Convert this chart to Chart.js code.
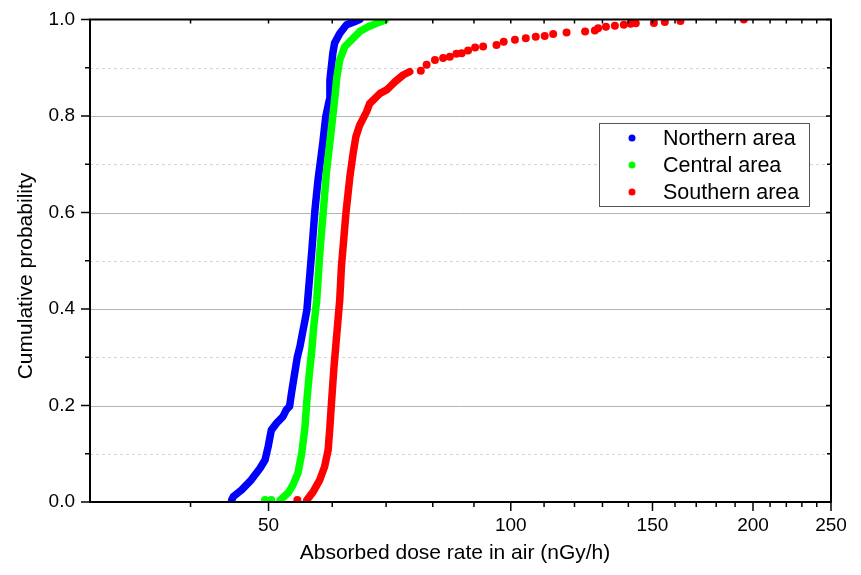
<!DOCTYPE html>
<html>
<head>
<meta charset="utf-8">
<title>Cumulative probability of absorbed dose rate</title>
<script src="https://cdn.jsdelivr.net/npm/chart.js@4.4.1/dist/chart.umd.min.js"></script>
<style>
  html, body { margin: 0; padding: 0; background: #fff; }
</style>
</head>
<body>
<canvas id="cdfChart" width="861" height="575"></canvas>
<script>
// Northern area (dense part, drawn as a band)
var northX = [45.0, 45.2, 46.3, 47.6, 48.8, 49.5, 49.95, 50.4, 51.2, 52.1, 52.6, 53.1, 53.4, 53.8, 54.3, 54.7, 55.1, 55.5, 55.8, 56.6, 57.1, 57.6, 58.4, 58.9, 59.5, 59.6, 60.1, 60.4, 61.3, 62.5, 64.3, 64.9];
var northP = [0.004, 0.011, 0.025, 0.046, 0.070, 0.087, 0.115, 0.149, 0.164, 0.177, 0.191, 0.198, 0.226, 0.260, 0.301, 0.322, 0.350, 0.377, 0.398, 0.522, 0.605, 0.667, 0.744, 0.799, 0.833, 0.875, 0.930, 0.951, 0.971, 0.989, 0.997, 1.0];

// Central area
var centralX = [51.7, 52.9, 53.6, 54.4, 55.0, 55.5, 55.8, 56.2, 56.6, 56.9, 57.4, 57.9, 58.5, 59.0, 59.7, 60.4, 60.8, 61.3, 62.2, 63.4, 64.9, 66.5, 68.1, 69.8];
var centralP = [0.004, 0.019, 0.035, 0.060, 0.102, 0.156, 0.211, 0.267, 0.315, 0.363, 0.419, 0.516, 0.605, 0.682, 0.757, 0.833, 0.881, 0.916, 0.944, 0.958, 0.975, 0.985, 0.992, 0.999];
var centralDotX = [49.5, 50.4];
var centralDotP = [0.004, 0.004];

// Southern area
var southX = [55.8, 56.8, 57.9, 58.7, 59.3, 59.6, 59.9, 60.3, 60.8, 61.3, 61.6, 62.4, 63.1, 63.7, 64.2, 64.9, 66.2, 66.8, 68.8, 70.1, 70.8, 71.8, 73.5, 74.9];
var southP = [0.004, 0.021, 0.046, 0.073, 0.108, 0.156, 0.211, 0.280, 0.350, 0.419, 0.488, 0.599, 0.674, 0.723, 0.757, 0.781, 0.809, 0.826, 0.847, 0.854, 0.861, 0.871, 0.885, 0.892];
var southDotX = [54.3, 77.3, 78.6, 80.5, 82.4, 84.0, 85.6, 86.9, 88.5, 90.3, 92.4, 96.0, 98.0, 101.2, 104.4, 107.4, 110.2, 112.9, 117.3, 123.7, 127.2, 128.4, 131.3, 134.7, 138.2, 140.9, 143.0, 150.6, 155.4, 162.5, 194.8];
var southDotP = [0.004, 0.894, 0.906, 0.916, 0.920, 0.923, 0.929, 0.930, 0.936, 0.942, 0.944, 0.947, 0.954, 0.958, 0.961, 0.964, 0.966, 0.970, 0.973, 0.975, 0.977, 0.982, 0.985, 0.987, 0.989, 0.991, 0.992, 0.993, 0.995, 0.997, 1.0];

var seriesNames = ["Northern area", "Central area", "Southern area"];
var seriesColors = ["#0000ff", "#00ff00", "#ff0000"];

// tick values
var xMajorTicks = [50, 100, 150, 200, 250];
var xMinorTicks = [40, 60, 70, 80, 90, 110, 120, 130, 140, 160, 170, 180, 190, 210, 220, 230, 240];
var yMajorTicks = [0, 0.2, 0.4, 0.6, 0.8, 1.0];
var yMinorTicks = [0.1, 0.3, 0.5, 0.7, 0.9];

var fontFamily = "Arial, 'Liberation Sans', sans-serif";

function toPoints(xs, ps) {
  return xs.map(function (x, i) { return { x: x, y: ps[i] }; });
}

function bandDataset(label, xs, ps, color, order) {
  return {
    label: label,
    data: toPoints(xs, ps),
    showLine: true,
    borderColor: color,
    backgroundColor: color,
    borderWidth: 7.5,
    borderCapStyle: "round",
    borderJoinStyle: "round",
    pointRadius: 0,
    tension: 0,
    order: order
  };
}

function dotDataset(xs, ps, color, order) {
  return {
    label: "",
    data: toPoints(xs, ps),
    showLine: false,
    backgroundColor: color,
    borderWidth: 0,
    pointRadius: 4,
    order: order
  };
}

// grid lines, frame, ticks, legend, axis titles
var decorations = {
  id: "decorations",
  beforeDatasetsDraw: function (chart) {
    var ctx = chart.ctx, a = chart.chartArea, y = chart.scales.y;
    ctx.save();
    ctx.lineWidth = 1;
    ctx.strokeStyle = "#d6d6d6";
    ctx.setLineDash([3, 3]);
    yMinorTicks.forEach(function (v) {
      var py = Math.round(y.getPixelForValue(v)) + 0.5;
      ctx.beginPath(); ctx.moveTo(a.left, py); ctx.lineTo(a.right, py); ctx.stroke();
    });
    ctx.setLineDash([]);
    ctx.strokeStyle = "#b4b4b4";
    yMajorTicks.slice(1, -1).forEach(function (v) {
      var py = Math.round(y.getPixelForValue(v)) + 0.5;
      ctx.beginPath(); ctx.moveTo(a.left, py); ctx.lineTo(a.right, py); ctx.stroke();
    });
    ctx.restore();
  },
  afterDatasetsDraw: function (chart) {
    var ctx = chart.ctx, a = chart.chartArea, x = chart.scales.x, y = chart.scales.y;
    ctx.save();
    ctx.strokeStyle = "#000";
    ctx.lineWidth = 1.5;
    function tick(x1, y1, x2, y2) {
      ctx.beginPath(); ctx.moveTo(x1, y1); ctx.lineTo(x2, y2); ctx.stroke();
    }
    xMajorTicks.forEach(function (v) {
      var px = x.getPixelForValue(v);
      tick(px, a.bottom, px, a.bottom + 9);
      tick(px, a.top, px, a.top + 4);
    });
    xMinorTicks.forEach(function (v) {
      var px = x.getPixelForValue(v);
      tick(px, a.bottom, px, a.bottom + 5);
      tick(px, a.top, px, a.top + 4);
    });
    yMajorTicks.forEach(function (v) {
      var py = y.getPixelForValue(v);
      tick(a.left - 9, py, a.left, py);
      tick(a.right - 5, py, a.right, py);
    });
    yMinorTicks.forEach(function (v) {
      var py = y.getPixelForValue(v);
      tick(a.left - 5, py, a.left, py);
      tick(a.right - 4, py, a.right, py);
    });
    ctx.lineWidth = 2;
    ctx.strokeRect(a.left, a.top, a.right - a.left, a.bottom - a.top);
    ctx.restore();
  },
  afterDraw: function (chart) {
    var ctx = chart.ctx;
    ctx.save();
    // legend box
    ctx.fillStyle = "#fff";
    ctx.fillRect(599, 123, 210, 83);
    ctx.strokeStyle = "#555";
    ctx.lineWidth = 1;
    ctx.strokeRect(599.5, 123.5, 210, 83);
    ctx.font = "21.5px " + fontFamily;
    ctx.textBaseline = "middle";
    ctx.textAlign = "left";
    seriesNames.forEach(function (name, i) {
      var cy = 138 + i * 27;
      ctx.fillStyle = seriesColors[i];
      ctx.beginPath(); ctx.arc(632, cy, 3.5, 0, Math.PI * 2); ctx.fill();
      ctx.fillStyle = "#000";
      ctx.fillText(name, 663, cy + 1);
    });
    // axis titles
    ctx.font = "21px " + fontFamily;
    ctx.textAlign = "center";
    ctx.fillText("Absorbed dose rate in air (nGy/h)", 455, 553);
    ctx.translate(26, 276);
    ctx.rotate(-Math.PI / 2);
    ctx.fillText("Cumulative probability", 0, 0);
    ctx.restore();
  }
};

new Chart("cdfChart", {
  type: "scatter",
  data: {
    datasets: [
      bandDataset(seriesNames[0], northX, northP, seriesColors[0], 6),
      bandDataset(seriesNames[1], centralX, centralP, seriesColors[1], 4),
      dotDataset(centralDotX, centralDotP, seriesColors[1], 3),
      bandDataset(seriesNames[2], southX, southP, seriesColors[2], 2),
      dotDataset(southDotX, southDotP, seriesColors[2], 1)
    ]
  },
  options: {
    responsive: false,
    animation: false,
    layout: { padding: { left: 0, right: 30, top: 19.5, bottom: 0 } },
    plugins: {
      legend: { display: false },
      tooltip: { enabled: false }
    },
    scales: {
      x: {
        type: "logarithmic",
        min: 30,
        max: 250,
        grid: { display: false, drawTicks: false },
        border: { display: false },
        afterBuildTicks: function (scale) {
          scale.ticks = xMajorTicks.map(function (v) { return { value: v }; });
        },
        afterFit: function (scale) {
          scale.height = 73;
          scale.paddingLeft = 0;
          scale.paddingRight = 0;
        },
        ticks: {
          autoSkip: false,
          maxRotation: 0,
          padding: 12,
          color: "#000",
          font: { size: 19, family: fontFamily },
          callback: function (v) { return String(v); }
        }
      },
      y: {
        min: 0,
        max: 1,
        grid: { display: false, drawTicks: false },
        border: { display: false },
        afterBuildTicks: function (scale) {
          scale.ticks = yMajorTicks.map(function (v) { return { value: v }; });
        },
        afterFit: function (scale) {
          scale.width = 90;
          scale.paddingTop = 0;
          scale.paddingBottom = 0;
        },
        ticks: {
          padding: 15,
          color: "#000",
          font: { size: 19, family: fontFamily },
          callback: function (v) { return Number(v).toFixed(1); }
        }
      }
    }
  },
  plugins: [decorations]
});
</script>
</body>
</html>
